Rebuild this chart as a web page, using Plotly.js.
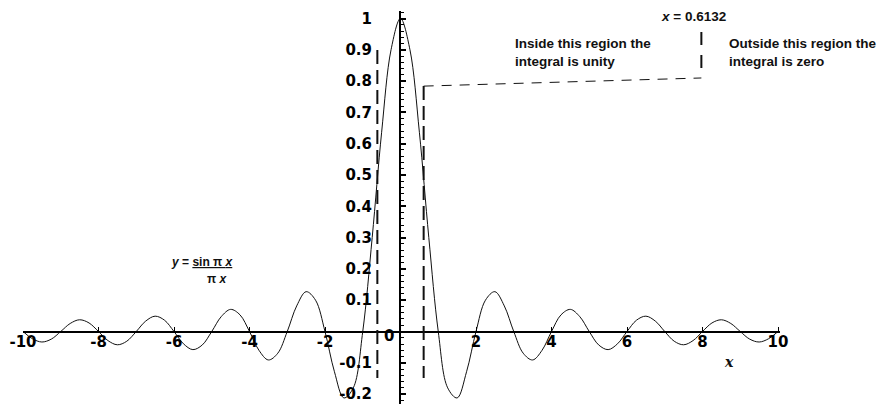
<!DOCTYPE html>
<html>
<head>
<meta charset="utf-8">
<script src="https://cdn.plot.ly/plotly-3.0.1.min.js"></script>
<style>html,body{margin:0;padding:0;background:#fff;}#chart{width:884px;height:406px;}</style>
</head>
<body>
<div id="chart"></div>
<script>
// ---- data ----
const xValues = [
  -10, -9.75, -9.5, -9.25, -9, -8.75, -8.5, -8.25, -8, -7.75, -7.5, -7.25, -7, -6.75, -6.5, -6.25,
  -6, -5.75, -5.5, -5.25, -5, -4.75, -4.5, -4.25, -4, -3.75, -3.5, -3.25, -3, -2.75, -2.5, -2.25,
  -2, -1.75, -1.5, -1.25, -1, -0.75, -0.5, -0.25, 0, 0.25, 0.5, 0.75, 1, 1.25, 1.5, 1.75,
  2, 2.25, 2.5, 2.75, 3, 3.25, 3.5, 3.75, 4, 4.25, 4.5, 4.75, 5, 5.25, 5.5, 5.75,
  6, 6.25, 6.5, 6.75, 7, 7.25, 7.5, 7.75, 8, 8.25, 8.5, 8.75, 9, 9.25, 9.5, 9.75, 10
];
const yValues = [
  0, -0.0231, -0.0335, -0.0243, 0, 0.0257, 0.0375, 0.0273, 0, -0.0290, -0.0424, -0.0310, 0, 0.0333, 0.0490, 0.0360,
  0, -0.0391, -0.0579, -0.0429, 0, 0.0474, 0.0707, 0.0530, 0, -0.0600, -0.0909, -0.0693, 0, 0.0818, 0.1273, 0.1000,
  0, -0.1286, -0.2122, -0.1801, 0, 0.3001, 0.6366, 0.9003, 1, 0.9003, 0.6366, 0.3001, 0, -0.1801, -0.2122, -0.1286,
  0, 0.1000, 0.1273, 0.0818, 0, -0.0693, -0.0909, -0.0600, 0, 0.0530, 0.0707, 0.0474, 0, -0.0429, -0.0579, -0.0391,
  0, 0.0360, 0.0490, 0.0333, 0, -0.0310, -0.0424, -0.0290, 0, 0.0273, 0.0375, 0.0257, 0, -0.0243, -0.0335, -0.0231, 0
];
const xTickVals = [-10, -8, -6, -4, -2, 2, 4, 6, 8, 10];
const xTickText = ['-10', '-8', '-6', '-4', '-2', '2', '4', '6', '8', '10'];
const yTickVals = [-0.2, -0.1, 0.1, 0.2, 0.3, 0.4, 0.5, 0.6, 0.7, 0.8, 0.9, 1];
const yTickText = ['-0.2', '-0.1', '0.1', '0.2', '0.3', '0.4', '0.5', '0.6', '0.7', '0.8', '0.9', '1'];
const boundary = 0.6132;
const boundaryLabel = '<i>x</i> = 0.6132';
const insideText = 'Inside this region the<br>integral is unity';
const outsideText = 'Outside this region the<br>integral is zero';

// ---- chart ----
const W = 884, H = 406;
const xRange = [-10, 10.05];
const yRange = [-0.2316, 1.024];
const xDomain = [23 / W, (23 + (xRange[1] - xRange[0]) * 37.75) / W];
const yDomain = [2 / H, 395 / H];
const tickFont = {family: 'DejaVu Sans', size: 15, color: '#000', weight: 'bold'};
const txtFont = {family: 'Liberation Sans, Arial', size: 13.5, color: '#111', weight: 'bold'};
const eqFont = {family: 'Liberation Sans, Arial', size: 12, color: '#111', weight: 'bold'};

const trace = {
  x: xValues, y: yValues, type: 'scatter', mode: 'lines',
  line: {color: '#111', width: 1, shape: 'spline', smoothing: 1},
  hoverinfo: 'skip'
};

const dashV = {color: '#111', width: 2, dash: '14px,6px'};
const shapes = [
  {type: 'line', xref: 'x', yref: 'y', x0: -boundary, x1: -boundary, y0: 0.899, y1: -0.1486, line: dashV},
  {type: 'line', xref: 'x', yref: 'y', x0: boundary, x1: boundary, y0: 0.784, y1: -0.1486, line: dashV},
  {type: 'line', xref: 'x', yref: 'y', x0: boundary, x1: 7.97, y0: 0.784, y1: 0.81,
   line: {color: '#111', width: 1, dash: '10px,8px'}},
  {type: 'line', xref: 'x', yref: 'y', x0: 7.97, x1: 7.97, y0: 0.957, y1: 0.835,
   line: {color: '#111', width: 2, dash: '13px,10px'}}
];

const annotations = [
  {x: -0.318, y: -0.0144, xref: 'x', yref: 'y', text: '0', showarrow: false, font: tickFont,
   xanchor: 'center', yanchor: 'middle'},
  {x: 7.76, y: 1.005, xref: 'x', yref: 'y', text: boundaryLabel, showarrow: false,
   font: txtFont, xanchor: 'center', yanchor: 'middle'},
  {x: 2.97, y: 0.89, xref: 'x', yref: 'y', text: insideText, showarrow: false,
   font: txtFont, xanchor: 'left', yanchor: 'middle', align: 'left'},
  {x: 8.66, y: 0.89, xref: 'x', yref: 'y', text: outsideText, showarrow: false,
   font: txtFont, xanchor: 'left', yanchor: 'middle', align: 'left'},
  {x: -6.12, y: 0.221, xref: 'x', yref: 'y', text: '<i>y</i> = <u>sin π <i>x</i></u>', showarrow: false,
   font: eqFont, xanchor: 'left', yanchor: 'middle'},
  {x: -4.85, y: 0.168, xref: 'x', yref: 'y', text: 'π <i>x</i>', showarrow: false,
   font: eqFont, xanchor: 'center', yanchor: 'middle'},
  {x: 8.69, y: -0.097, xref: 'x', yref: 'y', text: '<i>x</i>', showarrow: false,
   font: {family: 'DejaVu Serif', size: 14, color: '#111', weight: 'bold'}, xanchor: 'center', yanchor: 'middle'}
];

const layout = {
  width: W, height: H,
  margin: {l: 0, r: 0, t: 0, b: 0, pad: 0},
  paper_bgcolor: '#fff', plot_bgcolor: 'rgba(0,0,0,0)',
  showlegend: false,
  xaxis: {
    range: xRange, domain: xDomain, anchor: 'free', position: (H - 331.5) / H,
    showline: true, linecolor: '#000', linewidth: 2, showgrid: false, zeroline: false,
    tickmode: 'array', tickvals: xTickVals, ticktext: xTickText,
    ticks: 'inside', ticklen: 4, tickwidth: 1, tickcolor: '#000',
    tickfont: tickFont, ticklabelstandoff: -4
  },
  yaxis: {
    range: yRange, domain: yDomain, anchor: 'free', position: 400 / W,
    showline: true, linecolor: '#000', linewidth: 2, showgrid: false, zeroline: false,
    tickmode: 'array', tickvals: yTickVals, ticktext: yTickText,
    ticks: 'inside', ticklen: 5, tickwidth: 2, tickcolor: '#000',
    minor: {tickmode: 'linear', tick0: 0, dtick: 0.02, ticks: 'inside', ticklen: 3, tickwidth: 1, tickcolor: '#000', showgrid: false},
    tickfont: tickFont, ticklabelstandoff: 24
  },
  shapes: shapes,
  annotations: annotations
};

Plotly.newPlot('chart', [trace], layout, {staticPlot: true, displayModeBar: false});
</script>
</body>
</html>
